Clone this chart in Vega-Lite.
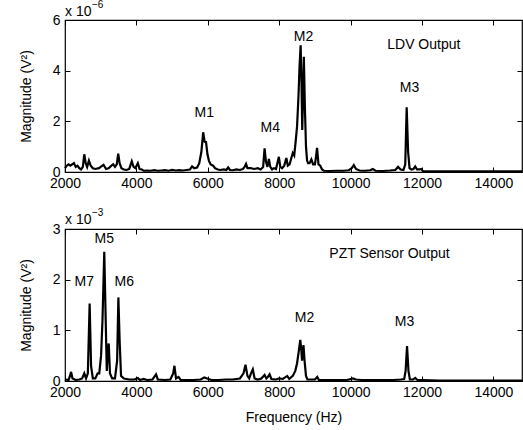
{
  "$schema": "https://vega.github.io/schema/vega-lite/v6.json",
  "padding": {"left": 18, "top": -1, "right": 2, "bottom": 5},
  "config": {
    "font": "Liberation Sans",
    "view": {"stroke": "black", "strokeWidth": 1.2},
    "axis": {"grid": false, "domain": false, "labelFontSize": 14, "titleFontSize": 14, "titleFontWeight": "normal", "labelColor": "black", "titleColor": "black", "tickColor": "black", "tickSize": -5, "tickWidth": 1, "labelPadding": 10, "labelFlush": false, "labelOverlap": false},
    "axisX": {"labelPadding": 9},
    "text": {"font": "Liberation Sans", "fontSize": 14, "color": "black"}
  },
  "datasets": {
    "ldv": [
      {"f":2000,"m":0.15},{"f":2050,"m":0.25},{"f":2100,"m":0.3},{"f":2150,"m":0.25},{"f":2200,"m":0.3},{"f":2250,"m":0.35},{"f":2300,"m":0.2},{"f":2350,"m":0.25},{"f":2400,"m":0.15},{"f":2450,"m":0.1},{"f":2500,"m":0.2},{"f":2540,"m":0.7},{"f":2580,"m":0.35},{"f":2620,"m":0.2},{"f":2670,"m":0.45},{"f":2720,"m":0.25},{"f":2780,"m":0.15},{"f":2850,"m":0.12},{"f":2950,"m":0.15},{"f":3000,"m":0.2},{"f":3080,"m":0.28},{"f":3150,"m":0.12},{"f":3220,"m":0.15},{"f":3300,"m":0.25},{"f":3350,"m":0.3},{"f":3400,"m":0.2},{"f":3450,"m":0.3},{"f":3490,"m":0.72},{"f":3530,"m":0.35},{"f":3580,"m":0.15},{"f":3650,"m":0.1},{"f":3720,"m":0.08},{"f":3800,"m":0.12},{"f":3870,"m":0.42},{"f":3920,"m":0.2},{"f":3970,"m":0.15},{"f":4040,"m":0.35},{"f":4090,"m":0.12},{"f":4150,"m":0.1},{"f":4200,"m":0.05},{"f":4300,"m":0.06},{"f":4400,"m":0.05},{"f":4500,"m":0.07},{"f":4600,"m":0.05},{"f":4700,"m":0.06},{"f":4800,"m":0.07},{"f":4900,"m":0.05},{"f":5000,"m":0.08},{"f":5100,"m":0.06},{"f":5200,"m":0.07},{"f":5300,"m":0.06},{"f":5400,"m":0.08},{"f":5500,"m":0.1},{"f":5560,"m":0.22},{"f":5620,"m":0.15},{"f":5700,"m":0.18},{"f":5760,"m":0.35},{"f":5820,"m":0.8},{"f":5870,"m":1.57},{"f":5910,"m":1.2},{"f":5950,"m":1.18},{"f":5990,"m":0.7},{"f":6030,"m":0.45},{"f":6080,"m":0.3},{"f":6150,"m":0.25},{"f":6200,"m":0.15},{"f":6280,"m":0.1},{"f":6350,"m":0.08},{"f":6450,"m":0.1},{"f":6520,"m":0.08},{"f":6570,"m":0.18},{"f":6620,"m":0.08},{"f":6700,"m":0.07},{"f":6800,"m":0.1},{"f":6900,"m":0.08},{"f":6980,"m":0.12},{"f":7030,"m":0.2},{"f":7070,"m":0.32},{"f":7110,"m":0.15},{"f":7200,"m":0.15},{"f":7300,"m":0.12},{"f":7400,"m":0.15},{"f":7480,"m":0.1},{"f":7550,"m":0.2},{"f":7590,"m":0.93},{"f":7630,"m":0.4},{"f":7670,"m":0.2},{"f":7710,"m":0.52},{"f":7750,"m":0.2},{"f":7800,"m":0.1},{"f":7850,"m":0.15},{"f":7910,"m":0.12},{"f":7990,"m":0.6},{"f":8030,"m":0.2},{"f":8080,"m":0.15},{"f":8140,"m":0.25},{"f":8200,"m":0.55},{"f":8240,"m":0.25},{"f":8290,"m":0.3},{"f":8340,"m":0.55},{"f":8380,"m":0.75},{"f":8420,"m":0.65},{"f":8460,"m":1.2},{"f":8500,"m":1.8},{"f":8540,"m":3.0},{"f":8570,"m":4.2},{"f":8600,"m":5.0},{"f":8625,"m":3.5},{"f":8645,"m":1.66},{"f":8670,"m":3.2},{"f":8690,"m":4.55},{"f":8720,"m":2.5},{"f":8750,"m":1.0},{"f":8780,"m":0.45},{"f":8810,"m":0.35},{"f":8850,"m":0.35},{"f":8900,"m":0.5},{"f":8950,"m":0.3},{"f":9000,"m":0.3},{"f":9030,"m":0.6},{"f":9060,"m":0.95},{"f":9100,"m":0.3},{"f":9150,"m":0.25},{"f":9200,"m":0.1},{"f":9250,"m":0.05},{"f":9400,"m":0.04},{"f":9600,"m":0.05},{"f":9800,"m":0.05},{"f":9950,"m":0.07},{"f":10030,"m":0.15},{"f":10090,"m":0.27},{"f":10150,"m":0.12},{"f":10250,"m":0.06},{"f":10400,"m":0.05},{"f":10550,"m":0.07},{"f":10620,"m":0.12},{"f":10700,"m":0.05},{"f":10900,"m":0.04},{"f":11100,"m":0.06},{"f":11250,"m":0.08},{"f":11330,"m":0.2},{"f":11400,"m":0.1},{"f":11480,"m":0.08},{"f":11530,"m":0.3},{"f":11570,"m":2.55},{"f":11610,"m":0.8},{"f":11650,"m":0.15},{"f":11700,"m":0.1},{"f":11760,"m":0.12},{"f":11810,"m":0.22},{"f":11860,"m":0.1},{"f":11920,"m":0.1},{"f":11980,"m":0.12},{"f":12020,"m":0.04},{"f":12200,"m":0.03},{"f":12500,"m":0.03},{"f":13000,"m":0.03},{"f":13500,"m":0.03},{"f":14000,"m":0.03},{"f":14500,"m":0.03},{"f":14800,"m":0.03}
    ],
    "pzt": [
      {"f":2000,"m":0.03},{"f":2100,"m":0.02},{"f":2140,"m":0.1},{"f":2170,"m":0.18},{"f":2210,"m":0.05},{"f":2300,"m":0.02},{"f":2400,"m":0.03},{"f":2480,"m":0.05},{"f":2540,"m":0.15},{"f":2590,"m":0.05},{"f":2640,"m":0.15},{"f":2690,"m":1.53},{"f":2730,"m":0.3},{"f":2780,"m":0.05},{"f":2850,"m":0.05},{"f":2915,"m":0.15},{"f":2960,"m":0.15},{"f":3010,"m":0.5},{"f":3050,"m":1.2},{"f":3100,"m":2.55},{"f":3140,"m":1.2},{"f":3170,"m":0.2},{"f":3200,"m":0.6},{"f":3225,"m":0.74},{"f":3260,"m":0.15},{"f":3320,"m":0.05},{"f":3400,"m":0.05},{"f":3460,"m":0.4},{"f":3495,"m":1.65},{"f":3530,"m":0.8},{"f":3570,"m":0.1},{"f":3650,"m":0.05},{"f":3800,"m":0.03},{"f":3950,"m":0.03},{"f":4040,"m":0.06},{"f":4100,"m":0.02},{"f":4200,"m":0.04},{"f":4300,"m":0.02},{"f":4450,"m":0.03},{"f":4550,"m":0.13},{"f":4600,"m":0.03},{"f":4800,"m":0.02},{"f":4950,"m":0.03},{"f":5030,"m":0.15},{"f":5065,"m":0.3},{"f":5110,"m":0.05},{"f":5180,"m":0.08},{"f":5240,"m":0.02},{"f":5400,"m":0.02},{"f":5600,"m":0.02},{"f":5800,"m":0.03},{"f":5900,"m":0.07},{"f":5980,"m":0.05},{"f":6100,"m":0.02},{"f":6300,"m":0.02},{"f":6500,"m":0.03},{"f":6700,"m":0.03},{"f":6900,"m":0.05},{"f":7000,"m":0.15},{"f":7055,"m":0.32},{"f":7110,"m":0.1},{"f":7160,"m":0.05},{"f":7210,"m":0.15},{"f":7260,"m":0.23},{"f":7310,"m":0.05},{"f":7400,"m":0.03},{"f":7500,"m":0.05},{"f":7590,"m":0.12},{"f":7640,"m":0.05},{"f":7680,"m":0.08},{"f":7730,"m":0.13},{"f":7780,"m":0.04},{"f":7900,"m":0.03},{"f":8000,"m":0.05},{"f":8100,"m":0.04},{"f":8225,"m":0.1},{"f":8280,"m":0.04},{"f":8380,"m":0.1},{"f":8450,"m":0.2},{"f":8500,"m":0.35},{"f":8550,"m":0.6},{"f":8590,"m":0.81},{"f":8620,"m":0.6},{"f":8640,"m":0.4},{"f":8665,"m":0.6},{"f":8680,"m":0.71},{"f":8710,"m":0.4},{"f":8750,"m":0.1},{"f":8790,"m":0.03},{"f":8900,"m":0.03},{"f":9000,"m":0.03},{"f":9065,"m":0.08},{"f":9110,"m":0.02},{"f":9300,"m":0.02},{"f":9600,"m":0.02},{"f":9900,"m":0.02},{"f":10065,"m":0.05},{"f":10150,"m":0.03},{"f":10300,"m":0.02},{"f":10600,"m":0.02},{"f":10900,"m":0.02},{"f":11200,"m":0.02},{"f":11400,"m":0.03},{"f":11500,"m":0.04},{"f":11540,"m":0.2},{"f":11580,"m":0.69},{"f":11620,"m":0.2},{"f":11660,"m":0.03},{"f":11750,"m":0.03},{"f":11810,"m":0.06},{"f":11870,"m":0.02},{"f":12000,"m":0.02},{"f":12500,"m":0.01},{"f":13000,"m":0.01},{"f":14000,"m":0.01},{"f":14800,"m":0.01}
    ],
    "ldvLabels": [
      {"f":5900,"m":2.33,"t":"M1"},{"f":7750,"m":1.74,"t":"M4"},{"f":8680,"m":5.34,"t":"M2"},{"f":12050,"m":5.01,"t":"LDV Output"},{"f":11650,"m":3.3,"t":"M3"}
    ],
    "pztLabels": [
      {"f":3100,"m":2.8,"t":"M5"},{"f":2540,"m":1.96,"t":"M7"},{"f":3660,"m":1.96,"t":"M6"},{"f":11090,"m":2.5,"t":"PZT Sensor Output"},{"f":8710,"m":1.24,"t":"M2"},{"f":11510,"m":1.17,"t":"M3"}
    ],
    "one": [{}]
  },
  "vconcat": [
    {
      "width": 457, "height": 152,
      "layer": [
        {
          "data": {"name": "ldv"},
          "mark": {"type": "line", "stroke": "black", "strokeWidth": 2.2},
          "encoding": {
            "x": {"field": "f", "type": "quantitative", "scale": {"domain": [2000, 14800], "nice": false, "zero": false}, "axis": {"values": [2000,4000,6000,8000,10000,12000,14000], "format": "d", "title": null}},
            "y": {"field": "m", "type": "quantitative", "scale": {"domain": [0, 6], "nice": false}, "axis": {"values": [0,2,4,6], "title": "Magnitude (V²)", "titleX": -39, "titleY": 76, "titleAngle": -90, "titleAlign": "center", "titleBaseline": "middle"}}
          }
        },
        {
          "data": {"name": "ldvLabels"},
          "mark": {"type": "text", "align": "center", "baseline": "middle"},
          "encoding": {
            "x": {"field": "f", "type": "quantitative", "axis": {"orient": "top", "values": [2000,4000,6000,8000,10000,12000,14000], "labels": false, "title": null}},
            "y": {"field": "m", "type": "quantitative", "axis": {"orient": "right", "values": [0,2,4,6], "labels": false, "title": null}},
            "text": {"field": "t"}
          }
        },
        {
          "data": {"name": "one"},
          "mark": {"type": "text", "align": "left", "baseline": "middle", "dy": -8},
          "encoding": {
            "x": {"datum": 2000, "type": "quantitative", "axis": null},
            "y": {"datum": 6, "type": "quantitative", "axis": null},
            "text": {"value": "x 10"}
          }
        },
        {
          "data": {"name": "one"},
          "mark": {"type": "text", "align": "left", "baseline": "middle", "dy": -15, "dx": 27, "fontSize": 10},
          "encoding": {
            "x": {"datum": 2000, "type": "quantitative", "axis": null},
            "y": {"datum": 6, "type": "quantitative", "axis": null},
            "text": {"value": "−6"}
          }
        }
      ],
      "resolve": {"axis": {"x": "independent", "y": "independent"}}
    },
    {
      "width": 457, "height": 152,
      "layer": [
        {
          "data": {"name": "pzt"},
          "mark": {"type": "line", "stroke": "black", "strokeWidth": 2.2},
          "encoding": {
            "x": {"field": "f", "type": "quantitative", "scale": {"domain": [2000, 14800], "nice": false, "zero": false}, "axis": {"values": [2000,4000,6000,8000,10000,12000,14000], "format": "d", "title": "Frequency (Hz)", "titleY": 36, "titleBaseline": "middle"}},
            "y": {"field": "m", "type": "quantitative", "scale": {"domain": [0, 3], "nice": false}, "axis": {"values": [0,1,2,3], "title": "Magnitude (V²)", "titleX": -39, "titleY": 76, "titleAngle": -90, "titleAlign": "center", "titleBaseline": "middle"}}
          }
        },
        {
          "data": {"name": "pztLabels"},
          "mark": {"type": "text", "align": "center", "baseline": "middle"},
          "encoding": {
            "x": {"field": "f", "type": "quantitative", "axis": {"orient": "top", "values": [2000,4000,6000,8000,10000,12000,14000], "labels": false, "title": null}},
            "y": {"field": "m", "type": "quantitative", "axis": {"orient": "right", "values": [0,1,2,3], "labels": false, "title": null}},
            "text": {"field": "t"}
          }
        },
        {
          "data": {"name": "one"},
          "mark": {"type": "text", "align": "left", "baseline": "middle", "dy": -9},
          "encoding": {
            "x": {"datum": 2000, "type": "quantitative", "axis": null},
            "y": {"datum": 3, "type": "quantitative", "axis": null},
            "text": {"value": "x 10"}
          }
        },
        {
          "data": {"name": "one"},
          "mark": {"type": "text", "align": "left", "baseline": "middle", "dy": -16, "dx": 27, "fontSize": 10},
          "encoding": {
            "x": {"datum": 2000, "type": "quantitative", "axis": null},
            "y": {"datum": 3, "type": "quantitative", "axis": null},
            "text": {"value": "−3"}
          }
        }
      ],
      "resolve": {"axis": {"x": "independent", "y": "independent"}}
    }
  ],
  "spacing": 57,
  "bounds": "flush"
}
